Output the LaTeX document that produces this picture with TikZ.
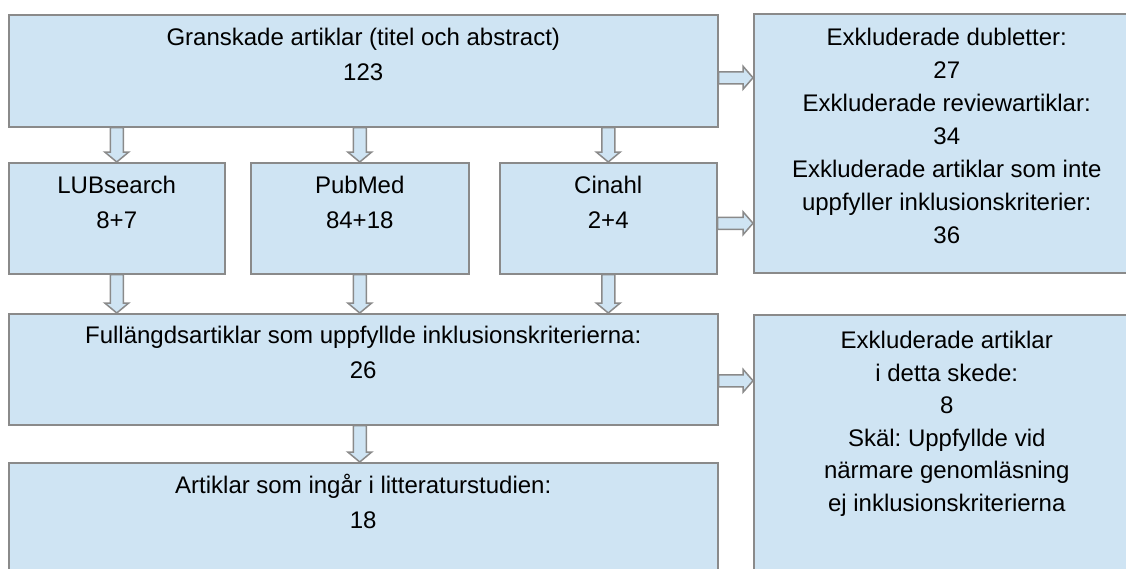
\documentclass[tikz,border=0pt]{standalone}
\usepackage{fontspec}
\setmainfont{Liberation Sans}
\usetikzlibrary{calc}
\definecolor{boxblue}{RGB}{207,228,243}
\definecolor{edgegray}{RGB}{138,138,138}
\frenchspacing

\begin{document}
\begin{tikzpicture}[x=1pt, y=-1pt,
        box/.style={draw=edgegray, fill=boxblue, line width=1.5pt, anchor=north west, inner sep=0pt},
        txt/.style={anchor=north, align=center, inner sep=0pt, font=\fontsize{24}{35}\selectfont},
        downfat/.style={draw=edgegray, fill=boxblue, line width=1.5pt, line join=miter,
            to path={let \p1=(\tikztostart), \p2=(\tikztotarget) in
                (\x1-6.5pt,\y1) -- (\x1-6.5pt,\y2+10pt) -- (\x1-12pt,\y2+10pt) -- (\x1,\y2)
                -- (\x1+12pt,\y2+10pt) -- (\x1+6.5pt,\y2+10pt) -- (\x1+6.5pt,\y1) -- cycle}},
        rightfat/.style={draw=edgegray, fill=boxblue, line width=1.5pt, line join=miter,
            to path={let \p1=(\tikztostart), \p2=(\tikztotarget) in
                (\x1,\y1+6pt) -- (\x2-10pt,\y1+6pt) -- (\x2-10pt,\y1+11.5pt) -- (\x2,\y1)
                -- (\x2-10pt,\y1-11.5pt) -- (\x2-10pt,\y1-6pt) -- (\x1,\y1-6pt) -- cycle}}]
        \useasboundingbox (0,0) rectangle (1126,568);
        \clip (0,0) rectangle (1126,568);

        \node[box, minimum width=709pt, minimum height=112pt](top) at (8,14){};
        \node[txt](top_t) at ([yshift=-14pt]top.north){Granskade artiklar (titel och abstract)\\123};

        \node[box, minimum width=216pt, minimum height=111pt](lub) at (8,162){};
        \node[box, minimum width=218pt, minimum height=111pt](pub) at (250,162){};
        \node[box, minimum width=217pt, minimum height=111pt](cin) at (499,162){};
        \node[txt](lub_t) at ([yshift=-14.4pt]lub.north){LUBsearch\\8+7};
        \node[txt](pub_t) at ([yshift=-14.4pt]pub.north){PubMed\\84+18};
        \node[txt](cin_t) at ([yshift=-14.4pt]cin.north){Cinahl\\2+4};

        \node[box, minimum width=709pt, minimum height=111pt](full) at (8,313){};
        \node[txt](full_t) at ([yshift=-13.4pt]full.north){Fullängdsartiklar som uppfyllde inklusionskriterierna:\\26};

        \node[box, minimum width=709pt, minimum height=140pt](bot) at (8,462){};
        \node[txt](bot_t) at ([yshift=-12.4pt]bot.north){Artiklar som ingår i litteraturstudien:\\18};

        \node[box, minimum width=386pt, minimum height=259pt](rtop) at (753,13){};
        \node[txt, font=\fontsize{24}{33}\selectfont](rtop_t) at ([yshift=-15.4pt]rtop.north){Exkluderade dubletter:\\27\\Exkluderade reviewartiklar:\\34\\Exkluderade artiklar som inte\\uppfyller inklusionskriterier:\\36};

        \node[box, minimum width=386pt, minimum height=290pt](rbot) at (753,314){};
        \node[txt, font=\fontsize{24}{32.5}\selectfont](rbot_t) at ([yshift=-17.4pt]rbot.north){Exkluderade artiklar\\i detta skede:\\8\\Skäl: Uppfyllde vid\\närmare genomläsning\\ej inklusionskriterierna};

        \coordinate(a1) at ([yshift=-7pt]top.east);
        \coordinate(a2) at ([yshift=-5pt]cin.east);
        \coordinate(a3) at ([yshift=-11.5pt]full.east);
        \coordinate(d0) at (full.south -| pub.south);

        \path (lub.north |- top.south) edge[downfat] (lub.north);
        \path (pub.north |- top.south) edge[downfat] (pub.north);
        \path (cin.north |- top.south) edge[downfat] (cin.north);
        \path (lub.south) edge[downfat] (lub.south |- full.north);
        \path (pub.south) edge[downfat] (pub.south |- full.north);
        \path (cin.south) edge[downfat] (cin.south |- full.north);
        \path (d0) edge[downfat] (d0 |- bot.north);

        \path (a1) edge[rightfat] (a1 -| rtop.west);
        \path (a2) edge[rightfat] (a2 -| rtop.west);
        \path (a3) edge[rightfat] (a3 -| rbot.west);
    \end{tikzpicture}
\end{document}
